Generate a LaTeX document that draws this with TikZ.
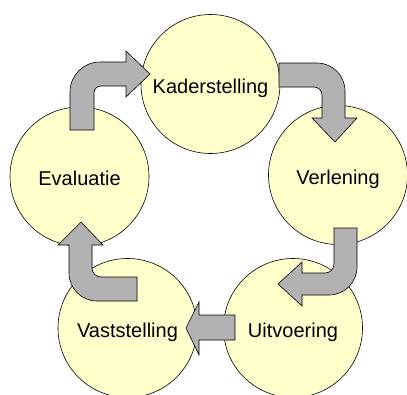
\documentclass[tikz,border=0pt]{standalone}
\usepackage{fontspec}
\setmainfont{Liberation Sans}
\definecolor{paleyellow}{HTML}{FFFFCC}
\definecolor{arrowgray}{HTML}{B2B2B2}
\begin{document}
\begin{tikzpicture}[x=1pt, y=-1pt,
   phase/.style = {circle, draw=black, line width=0.6pt, fill=paleyellow,
                   minimum size=139pt, inner sep=0pt,
                   font=\fontsize{20}{24}\selectfont,
                   text height=18pt, text depth=0pt},
  blockarr/.style = {draw=black, line width=0.6pt, fill=arrowgray, line join=miter}
                    ]
\useasboundingbox (0,0) rectangle (407,394);
\node (kader) [phase] at (210.5,84)  {Kaderstelling};
\node (verl)  [phase] at (338,175)   {Verlening};
\node (eval)  [phase] at (79.5,176.5){Evaluatie};
\node (vast)  [phase] at (127.5,328) {Vaststelling};
\node (uitv)  [phase] at (293,328)   {Uitvoering};
% evaluatie -> kaderstelling
\draw[blockarr] (70,130) -- (70,92) .. controls (70,75.4) and (83.4,62) .. (100,62)
   -- (126,62) -- (126,51) -- (150,74) -- (126,97) -- (126,86) -- (101,86)
   .. controls (97.1,86) and (94,89.1) .. (94,93) -- (94,130) -- cycle;
% kaderstelling -> verlening
\draw[blockarr] (279,63) -- (317,63) .. controls (332.5,63) and (345,75.5) .. (345,91)
   -- (345,118) -- (357,118) -- (335,142) -- (312,118) -- (322,118) -- (322,95)
   .. controls (322,90.6) and (318.4,87) .. (314,87) -- (279,87) -- cycle;
% verlening -> uitvoering
\draw[blockarr] (334,228) -- (357,228) -- (357,267)
   .. controls (357,282.5) and (344.5,295) .. (329,295)
   -- (302,295) -- (302,306) -- (278,284) -- (302,262) -- (302,273) -- (325,273)
   .. controls (330,273) and (334,269) .. (334,264) -- cycle;
% uitvoering -> vaststelling
\draw[blockarr] (235,315) -- (199,315) -- (199,302) -- (186,328) -- (199,355)
   -- (199,340) -- (235,340) -- cycle;
% vaststelling -> evaluatie
\draw[blockarr] (137,277) -- (137,301) -- (97,301)
   .. controls (81.5,301) and (69,288.5) .. (69,273)
   -- (69,245) -- (58,245) -- (81,222) -- (103,245) -- (92,245) -- (92,268)
   .. controls (92,273) and (96,277) .. (101,277) -- cycle;
\end{tikzpicture}
\end{document}
